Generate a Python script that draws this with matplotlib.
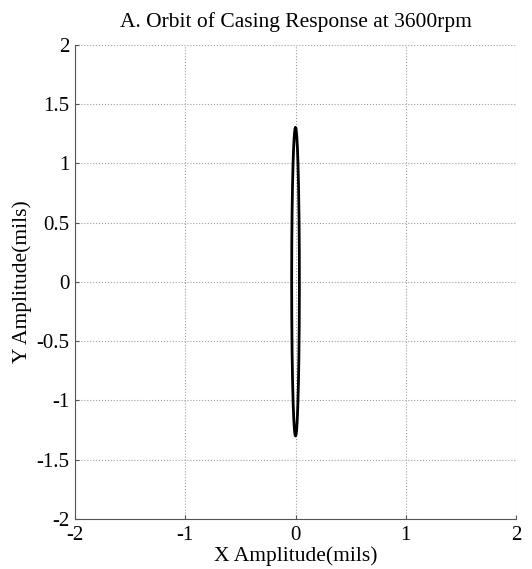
import numpy as np
import matplotlib
matplotlib.use("Agg")
import matplotlib.pyplot as plt

# ===================== data =====================
# casing response orbit at 3600rpm (amplitudes in mils, phase in deg)
X_AMP = 0.035
Y_AMP = 1.30
X_PHASE = 90.0
Y_PHASE = 0.0

X_TICKS = [-2, -1, 0, 1, 2]
Y_TICKS = [-2, -1.5, -1, -0.5, 0, 0.5, 1, 1.5, 2]
Y_TICK_LABELS = ['-2', '-1.5', '-1', '-0.5', '0', '0.5', '1', '1.5', '2']

TITLE = 'A. Orbit of Casing Response at 3600rpm'
X_LABEL = 'X Amplitude(mils)'
Y_LABEL = 'Y Amplitude(mils)'

plt.rcParams['font.family'] = ['Liberation Serif', 'DejaVu Serif']

# one revolution of the shaft
theta = np.linspace(0, 2 * np.pi, 721)
x = X_AMP * np.cos(theta + np.deg2rad(X_PHASE))
y = Y_AMP * np.cos(theta + np.deg2rad(Y_PHASE))

fig = plt.figure(figsize=(5.32, 5.69), dpi=100)
ax = fig.add_axes([0.141, 0.088, 0.829, 0.833])

ax.plot(x, y, color='black', linewidth=2.0)

ax.set_xlim(-2, 2)
ax.set_ylim(-2, 2)
ax.set_xticks(X_TICKS)
ax.set_xticklabels([str(v) for v in X_TICKS])
ax.set_yticks(Y_TICKS)
ax.set_yticklabels(Y_TICK_LABELS)

ax.grid(True, linestyle=':', color='#a0a0a0', linewidth=0.8)
ax.spines['top'].set_visible(False)
ax.spines['right'].set_visible(False)
for s in ['left', 'bottom']:
    ax.spines[s].set_color('#555555')
ax.tick_params(direction='in', length=3, labelsize=15, colors='#555555',
               labelcolor='black')
ax.tick_params(axis='y', pad=4)
ax.tick_params(axis='x', pad=5)

ax.set_title(TITLE, fontsize=15.5, pad=13)
ax.set_xlabel(X_LABEL, fontsize=15.5, labelpad=1)
ax.set_ylabel(Y_LABEL, fontsize=15.5, labelpad=3)

plt.savefig('out.png', dpi=100)
plt.close()
